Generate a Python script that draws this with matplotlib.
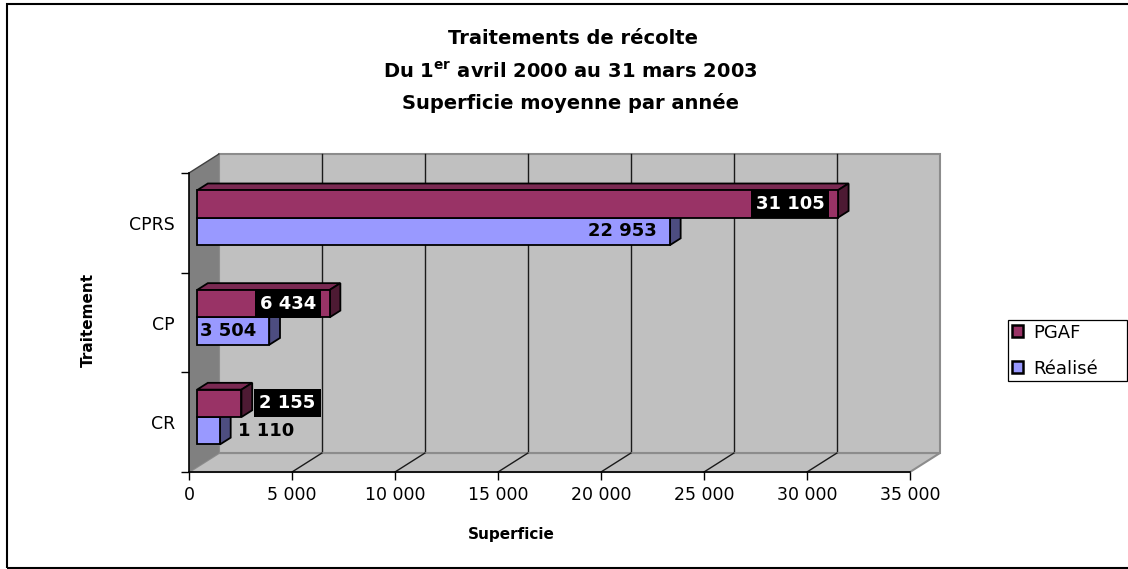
import numpy as np
import matplotlib.pyplot as plt
from matplotlib.patches import Polygon, Rectangle, Patch

# data
categories = ['CR', 'CP', 'CPRS']
pgaf = [2155, 6434, 31105]
realise = [1110, 3504, 22953]
series_names = ['PGAF', 'Réalisé']
xticks = [0, 5000, 10000, 15000, 20000, 25000, 30000, 35000]

# colours (excel 97 palette)
c_pgaf, c_pgaf_top, c_pgaf_side = '#993366', '#7a2952', '#4d1a33'
c_real, c_real_top, c_real_side = '#9999ff', '#7a7acc', '#4d4d80'
c_wall, c_side_wall, c_edge = '#c0c0c0', '#808080', '#8c8c8c'

plt.rcParams['font.family'] = ['DejaVu Sans']
plt.rcParams['mathtext.fontset'] = 'dejavusans'

W, H = 1128, 569
fig = plt.figure(figsize=(W / 100, H / 100), dpi=100)
ax = fig.add_axes([189 / W, (H - 472) / H, (910 - 189) / W, (472 - 173) / H])
xmax = xticks[-1]
ncat = len(categories)
ax.set_xlim(0, xmax)
ax.set_ylim(0, ncat)
ax.patch.set_visible(False)

# fake 3d depth (in data units)
DX, DY = 1450, 0.19
f0, f1 = 0.27, 0.63      # bars sit between these depth fractions
bh = 0.275               # bar thickness

# walls
back = Polygon([(DX, DY), (xmax + DX, DY), (xmax + DX, ncat + DY), (DX, ncat + DY)],
               closed=True, facecolor=c_wall, edgecolor=c_edge, lw=1.5, zorder=0, clip_on=False)
floor = Polygon([(0, 0), (xmax, 0), (xmax + DX, DY), (DX, DY)],
                closed=True, facecolor=c_wall, edgecolor=c_edge, lw=1.5, zorder=0.5, clip_on=False)
side = Polygon([(0, 0), (DX, DY), (DX, ncat + DY), (0, ncat)],
               closed=True, facecolor=c_side_wall, edgecolor='none', zorder=0.6, clip_on=False)
for p in (back, floor, side):
    ax.add_patch(p)
ax.plot([0, DX], [ncat, ncat + DY], color='#404040', lw=1, zorder=0.7, clip_on=False)

# gridlines on back wall and floor
for t in xticks[1:-1]:
    ax.plot([t + DX, t + DX], [DY, ncat + DY], color='#1a1a1a', lw=1, zorder=0.4, clip_on=False)
    ax.plot([t, t + DX], [0, DY], color='#1a1a1a', lw=1, zorder=0.55, clip_on=False)


def bar3d(y, val, front, top, sidec, z):
    x0 = f0 * DX
    yc = y + f0 * DY
    ax.barh(yc, val, left=x0, height=bh, color=front, edgecolor='black', lw=1.3, zorder=z + 0.2)
    d = f1 - f0
    yt, yb, xe = yc + bh / 2, yc - bh / 2, x0 + val
    ax.add_patch(Polygon([(x0, yt), (xe, yt), (xe + d * DX, yt + d * DY), (x0 + d * DX, yt + d * DY)],
                         closed=True, facecolor=top, edgecolor='black', lw=1.3, zorder=z, clip_on=False))
    ax.add_patch(Polygon([(xe, yb), (xe, yt), (xe + d * DX, yt + d * DY), (xe + d * DX, yb + d * DY)],
                         closed=True, facecolor=sidec, edgecolor='black', lw=1.3, zorder=z + 0.1, clip_on=False))
    return xe, yc


def fmt(v):
    return f'{v:,}'.replace(',', ' ')


for i in range(ncat):
    c = i + 0.5
    xe_r, yr = bar3d(c - bh / 2, realise[i], c_real, c_real_top, c_real_side, 2)
    xe_p, yp = bar3d(c + bh / 2, pgaf[i], c_pgaf, c_pgaf_top, c_pgaf_side, 3)
    for val, xe, yy, dark in ((pgaf[i], xe_p, yp, True), (realise[i], xe_r, yr, False)):
        if val >= 3000:
            xt, ha = xe - 650, 'right'
        else:
            xt, ha = xe + (f1 - f0) * DX + 350, 'left'
        kw = dict(ha=ha, va='center', fontsize=13, fontweight='bold', zorder=5, clip_on=False)
        if dark:
            ax.text(xt, yy, fmt(val), color='white',
                    bbox=dict(boxstyle='square,pad=0.28', facecolor='black', edgecolor='none'), **kw)
        else:
            ax.text(xt, yy, fmt(val), color='black', **kw)

# axes
for s in ('top', 'right'):
    ax.spines[s].set_visible(False)
for s in ('left', 'bottom'):
    ax.spines[s].set_color('black')
    ax.spines[s].set_linewidth(1.2)
    ax.spines[s].set_zorder(1)
ax.set_xticks(xticks, [fmt(t) for t in xticks])
ax.set_yticks(range(ncat + 1), [''] * (ncat + 1))
ax.set_yticks(np.arange(ncat) + 0.5, categories, minor=True)
ax.tick_params(axis='both', which='major', direction='out', length=6, width=1, color='black', labelsize=12.5)
ax.tick_params(axis='x', pad=4)
ax.tick_params(axis='y', which='minor', length=0, labelsize=12.5, pad=10)

ax.set_xlabel('Superficie', fontsize=11, fontweight='bold')
ax.xaxis.set_label_coords((511 - 189) / 721, -(527 - 472) / 299)
ax.set_ylabel('Traitement', fontsize=11, fontweight='bold')
ax.yaxis.set_label_coords(-(96 - 189) / -721, (472 - 320) / 299)

# title
fig.text(573 / W, 1 - 38 / H, 'Traitements de récolte', ha='center', va='center',
         fontsize=14, fontweight='bold')
fig.text(570 / W, 1 - 72 / H, r'Du 1$^{\mathbf{er}}$ avril 2000 au 31 mars 2003', ha='center',
         va='center', fontsize=14, fontweight='bold')
fig.text(570 / W, 1 - 103 / H, 'Superficie moyenne par année', ha='center', va='center',
         fontsize=14, fontweight='bold')

# legend
handles = [Patch(facecolor=c_pgaf, edgecolor='black', lw=1.8),
           Patch(facecolor=c_real, edgecolor='black', lw=1.8)]
leg = fig.legend(handles, series_names, loc='upper left',
                 bbox_to_anchor=(1008 / W, 1 - 383 / H, 119 / W, 63 / H), mode='expand',
                 frameon=True, fancybox=False, edgecolor='black', framealpha=1, fontsize=13,
                 handlelength=0.65, handleheight=0.65, handletextpad=0.55, borderpad=0.2,
                 labelspacing=1.0, borderaxespad=0)
leg.get_frame().set_linewidth(0.9)

# outer chart frame
fig.add_artist(Rectangle((7 / W, 1.5 / H), 1.2, (565 - 1.5) / H, transform=fig.transFigure,
                         fill=False, edgecolor='black', lw=1.5))

fig.savefig('out.png', dpi=100)
